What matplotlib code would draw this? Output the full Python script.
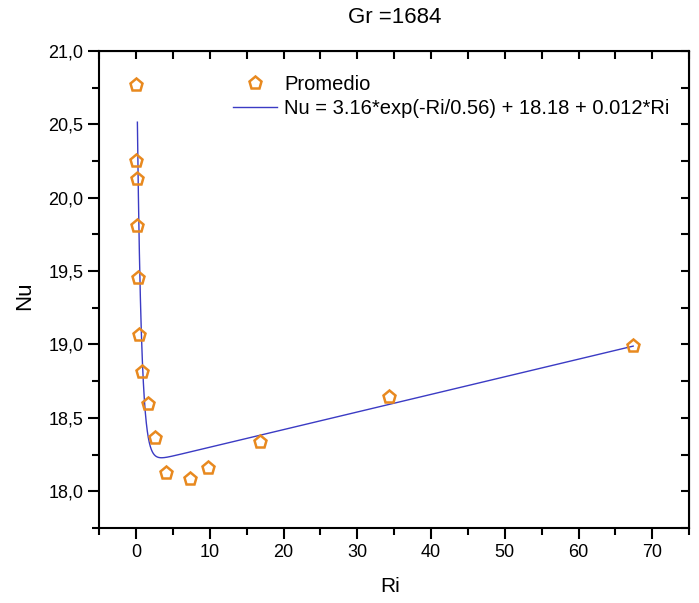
import numpy as np
import matplotlib
matplotlib.use('Agg')
import matplotlib.pyplot as plt
from matplotlib.ticker import MultipleLocator, FuncFormatter

plt.rcParams['font.family'] = ['Liberation Sans', 'DejaVu Sans']

# datos medidos (promedio)
ri = [0.0, 0.05, 0.1, 0.15, 0.25, 0.4, 0.75, 1.6, 2.5, 4.0, 7.3, 9.8, 16.8, 34.3, 67.4]
nu = [20.77, 20.25, 20.13, 19.81, 19.455, 19.065, 18.81, 18.595, 18.365, 18.125, 18.085, 18.155, 18.335, 18.645, 18.99]

# ajuste: Nu = A*exp(-Ri/t) + y0 + b*Ri
fit_a, fit_t, fit_y0, fit_b = 3.16, 0.56, 18.18, 0.012
fit_ri_min, fit_ri_max = 0.17, 67.4

titulo = "Gr =1684"

fig = plt.figure(figsize=(6.99, 6.03), dpi=100)
ax = fig.add_axes([0.142, 0.1245, 0.844, 0.791])

x_fit = np.linspace(fit_ri_min, fit_ri_max, 2000)
y_fit = fit_a * np.exp(-x_fit / fit_t) + fit_y0 + fit_b * x_fit

ax.plot(ri, nu, linestyle='none', marker='p', markersize=9.5, markerfacecolor='none',
        markeredgecolor='#e8891f', markeredgewidth=1.8, label='Promedio', zorder=3)
ax.plot(x_fit, y_fit, color='#3b3bc4', linewidth=1.0,
        label='Nu = 3.16*exp(-Ri/0.56) + 18.18 + 0.012*Ri', zorder=2)

ax.set_xlim(-5, 75)
ax.set_ylim(17.75, 21.0)
ax.xaxis.set_major_locator(MultipleLocator(10))
ax.xaxis.set_minor_locator(MultipleLocator(5))
ax.yaxis.set_major_locator(MultipleLocator(0.5))
ax.yaxis.set_minor_locator(MultipleLocator(0.25))
ax.yaxis.set_major_formatter(FuncFormatter(lambda v, p: f"{v:.1f}".replace('.', ',')))

for s in ax.spines.values():
    s.set_linewidth(1.5)
ax.tick_params(which='both', direction='out', width=1.5, labelsize=13, top=False, right=False)
ax.tick_params(which='major', length=8)
ax.tick_params(which='minor', length=5)

# ticks hacia dentro arriba y a la derecha
ax2 = ax.secondary_xaxis('top')
ax2.xaxis.set_major_locator(MultipleLocator(5))
ax2.tick_params(direction='in', width=1.5, length=6, labeltop=False)
ax3 = ax.secondary_yaxis('right')
ax3.yaxis.set_major_locator(MultipleLocator(0.25))
ax3.tick_params(direction='in', width=1.5, length=6, labelright=False)

ax.set_xlabel('Ri', fontsize=15)
ax.set_ylabel('Nu', fontsize=16)
ax.xaxis.set_label_coords(0.493, -0.102)
ax.yaxis.set_label_coords(-0.109, 0.486)
ax.set_title(titulo, fontsize=16, pad=20)

ax.legend(loc='upper left', bbox_to_anchor=(0.213, 0.967), frameon=False, fontsize=14.5,
          handlelength=2.2, handletextpad=0.35, labelspacing=0.25, borderaxespad=0)

fig.savefig('out.png', dpi=100)
